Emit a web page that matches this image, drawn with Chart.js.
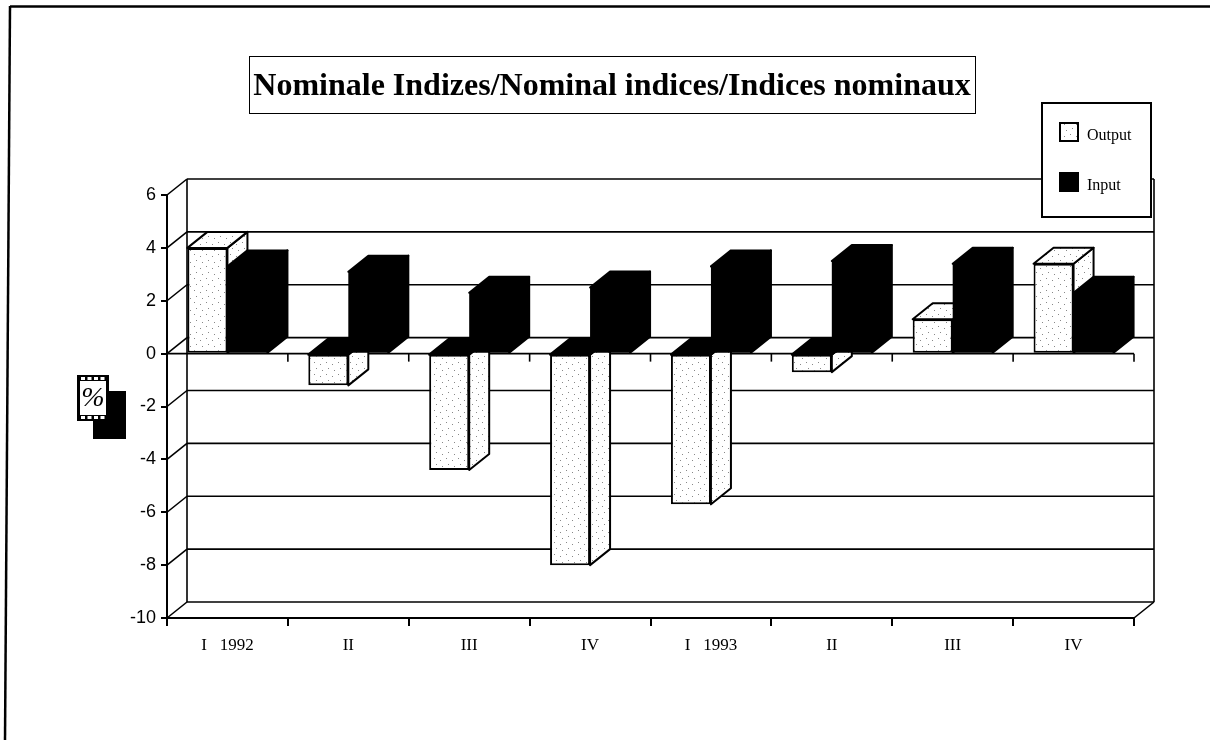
<!DOCTYPE html>
<html>
<head>
<meta charset="utf-8">
<style>
html,body{margin:0;padding:0;background:#fff;overflow:hidden;}
canvas{display:block;}
</style>
<script src="https://cdn.jsdelivr.net/npm/chart.js@4"></script>
</head>
<body>
<canvas id="indexChart" width="1210" height="740"></canvas>
<script>
const titleText = "Nominale Indizes/Nominal indices/Indices nominaux";
const quarters = ["I   1992","II","III","IV","I   1993","II","III","IV"];
const outputValues = [4.0,-1.2,-4.4,-8.0,-5.7,-0.7,1.3,3.4];
const inputValues = [3.3,3.1,2.3,2.5,3.3,3.5,3.4,2.3];
const yTicks = [6,4,2,0,-2,-4,-6,-8,-10];

const depthX = 20;
const depthY = 16;

// light stipple for the output bars
function makeStipple() {
    let c = document.createElement("canvas");
    c.width = 12; c.height = 12;
    let g = c.getContext("2d");
    g.fillStyle = "#fff";
    g.fillRect(0,0,12,12);
    g.fillStyle = "#888";
    g.fillRect(2,2,1,1);
    g.fillRect(8,4,1,1);
    g.fillRect(4,8,1,1);
    g.fillRect(10,10,1,1);
    return g.createPattern(c,"repeat");
}
const stipple = makeStipple();

function poly(ctx, pts, fill) {
    ctx.beginPath();
    ctx.moveTo(pts[0][0],pts[0][1]);
    for(let i=1; i<pts.length; i++) ctx.lineTo(pts[i][0],pts[i][1]);
    ctx.closePath();
    if(fill) { ctx.fillStyle = fill; ctx.fill(); }
    ctx.stroke();
}
function line(ctx, x1, y1, x2, y2) {
    ctx.beginPath();
    ctx.moveTo(x1,y1);
    ctx.lineTo(x2,y2);
    ctx.stroke();
}

const framePlugin = {
    id:"frame",
    beforeDraw(chart) {
        let ctx = chart.ctx;
        ctx.save();
        ctx.fillStyle = "#fff";
        ctx.fillRect(0,0,chart.width,chart.height);
        ctx.strokeStyle = "#000";
        ctx.lineWidth = 2.5;
        line(ctx,1210,6.5,10,6.5);
        line(ctx,10,6,5,740);
        // title box
        ctx.lineWidth = 1;
        ctx.strokeRect(249.5,56.5,726,57);
        ctx.restore();
    },
    afterLayout(chart) {
        // move the title to the middle of its box
        chart.titleBlock.left += 45;
        chart.titleBlock.right += 45;
    }
};

function drawFaces(chart, index) {
    let ctx = chart.ctx;
    let fill = chart.data.datasets[index].backgroundColor;
    chart.getDatasetMeta(index).data.forEach(function(el){
        let l = el.x-el.width/2, r = el.x+el.width/2;
        let topY = Math.min(el.y,el.base), botY = Math.max(el.y,el.base);
        let negative = el.y > el.base;
        poly(ctx,[[r,topY],[r+depthX,topY-depthY],[r+depthX,botY-depthY],[r,botY]],fill);
        poly(ctx,[[l,topY],[l+depthX,topY-depthY],[r+depthX,topY-depthY],[r,topY]],negative ? "#000" : fill);
    });
}

const wallsPlugin = {
    id:"walls",
    beforeDatasetsDraw(chart) {
        let ctx = chart.ctx;
        let y = chart.scales.y;
        let x = chart.scales.x;
        let left = x.left, right = x.right;
        ctx.save();
        ctx.strokeStyle = "#000";
        ctx.lineWidth = 1.6;
        // back wall and left side wall
        line(ctx,left+depthX,y.top-depthY,left+depthX,y.bottom-depthY);
        line(ctx,right+depthX,y.top-depthY,right+depthX,y.bottom-depthY);
        line(ctx,right,y.bottom,right+depthX,y.bottom-depthY);
        for(let i=0; i<yTicks.length; i++) {
            let py = y.getPixelForValue(yTicks[i]);
            line(ctx,left,py,left+depthX,py-depthY);
            line(ctx,left+depthX,py-depthY,right+depthX,py-depthY);
        }
        // zero line with its ticks
        let zero = y.getPixelForValue(0);
        line(ctx,left,zero,right,zero);
        for(let i=0; i<=quarters.length; i++) {
            let px = left + (right-left)*i/quarters.length;
            line(ctx,px,zero,px,zero+8);
        }
        // output faces go under the input bars, the library then draws the fronts
        ctx.lineWidth = 2;
        ctx.lineJoin = "round";
        drawFaces(chart,0);
        drawFaces(chart,1);
        ctx.restore();
    }
};

const extrasPlugin = {
    id:"extras",
    afterDraw(chart) {
        let ctx = chart.ctx;
        ctx.save();
        // legend box
        ctx.fillStyle = "#fff";
        ctx.strokeStyle = "#000";
        ctx.lineWidth = 2;
        ctx.fillRect(1042,103,109,114);
        ctx.strokeRect(1042,103,109,114);
        let rows = [[chart.data.datasets[0],123,136],[chart.data.datasets[1],173,186]];
        rows.forEach(function(row){
            ctx.fillStyle = row[0].backgroundColor;
            ctx.fillRect(1060,row[1],18,18);
            ctx.strokeRect(1060,row[1],18,18);
            ctx.fillStyle = "#000";
            ctx.font = "16px 'Liberation Serif'";
            ctx.textAlign = "left";
            ctx.textBaseline = "middle";
            ctx.fillText(row[0].label,1087,row[2]);
        });
        // % stamp
        ctx.fillStyle = "#000";
        ctx.fillRect(93,391,33,48);
        ctx.fillRect(77,375,32,46);
        ctx.fillStyle = "#fff";
        ctx.fillRect(80,381,26,34);
        for(let i=0; i<4; i++) {
            ctx.fillRect(81+i*6.5,377,4,3);
            ctx.fillRect(81+i*6.5,416,4,3);
        }
        ctx.fillStyle = "#000";
        ctx.font = "italic 28px 'Liberation Serif'";
        ctx.textAlign = "center";
        ctx.textBaseline = "middle";
        ctx.fillText("%",93,399);
        ctx.restore();
    }
};

new Chart(document.getElementById("indexChart"), {
    type:'bar',
    plugins:[framePlugin,wallsPlugin,extrasPlugin],
    options:{
        responsive:false,
        animation:false,
        layout:{padding:{left:0,right:76,top:0,bottom:0}},
        plugins:{
            legend:{display:false},
            tooltip:{enabled:false},
            title:{
                display:true,
                text:titleText,
                color:"#000",
                font:{family:"'Liberation Serif'",size:32,weight:"bold",lineHeight:1.2},
                padding:{top:68,bottom:88.6}
            }
        },
        scales:{
            x:{
                offset:true,
                afterFit:function(s){ s.height = 122; },
                border:{color:"#000",width:2},
                grid:{display:true,drawOnChartArea:false,color:"#000",lineWidth:2,tickLength:8,tickColor:"#000"},
                ticks:{color:"#000",padding:9,maxRotation:0,autoSkip:false,font:{family:"'Liberation Serif'",size:17}}
            },
            y:{
                min:-10,
                max:6,
                afterFit:function(s){ s.width = 167; },
                afterBuildTicks:function(s){ s.ticks = yTicks.map(function(v){ return {value:v}; }); },
                border:{color:"#000",width:2},
                grid:{display:true,drawOnChartArea:false,color:"#000",lineWidth:2,tickLength:6,tickColor:"#000"},
                ticks:{color:"#000",padding:5,font:{family:"'Liberation Sans'",size:18}}
            }
        }
    },
    data:{
        labels:quarters,
        datasets:[{
            label:"Output",
            data:outputValues,
            backgroundColor:stipple,
            borderColor:"#000",
            borderWidth:2,
            borderSkipped:false,
            categoryPercentage:0.662,
            barPercentage:1
        },{
            label:"Input",
            data:inputValues,
            backgroundColor:"#000",
            borderWidth:0,
            categoryPercentage:0.662,
            barPercentage:1
        }]
    }
});
</script>
</body>
</html>
